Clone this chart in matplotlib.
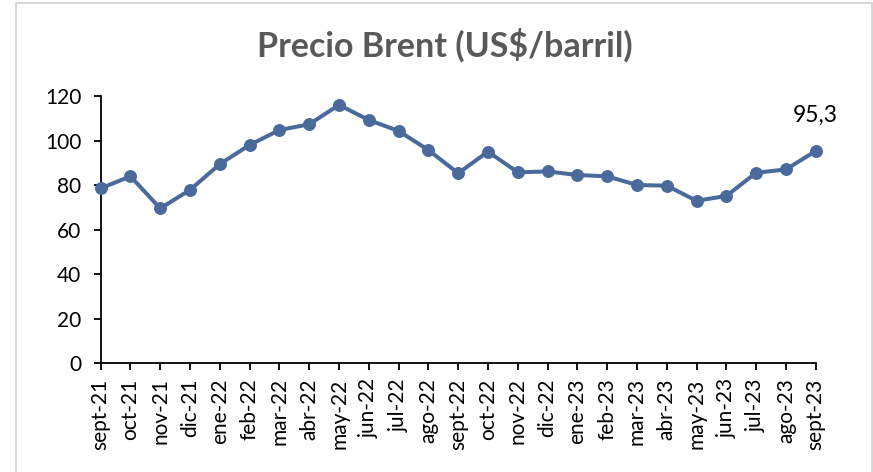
import matplotlib
matplotlib.use('Agg')
from matplotlib import pyplot as plt
from matplotlib.patches import Rectangle

months = ['sept-21', 'oct-21', 'nov-21', 'dic-21', 'ene-22', 'feb-22', 'mar-22', 'abr-22',
          'may-22', 'jun-22', 'jul-22', 'ago-22', 'sept-22', 'oct-22', 'nov-22', 'dic-22',
          'ene-23', 'feb-23', 'mar-23', 'abr-23', 'may-23', 'jun-23', 'jul-23', 'ago-23', 'sept-23']
brent = [78.5, 83.9, 69.5, 77.8, 89.4, 98.0, 104.7, 107.3, 116.0, 109.2, 104.3, 95.7, 85.3,
         95.0, 85.7, 86.1, 84.5, 83.9, 80.0, 79.7, 72.9, 75.1, 85.5, 87.0, 95.3]
last_label = '95,3'

plt.rcParams['font.family'] = ['Lato', 'DejaVu Sans']

fig = plt.figure(figsize=(8.73, 4.72), dpi=100)
fig.patches.append(Rectangle((16 / 873, -0.1), (872 - 16) / 873, 1.1 - 3 / 472,
                             transform=fig.transFigure, fill=False,
                             edgecolor='#d0d0d0', linewidth=1.2))

ax = fig.add_axes([0.1153, 0.2309, 0.8191, 0.5657])
x = list(range(len(months)))
ax.plot(x, brent, color='#4A6A9C', linewidth=2.9, marker='o', markersize=8.3,
        solid_capstyle='round', clip_on=False, zorder=3)

ax.annotate(last_label, (x[-1], brent[-1]), xytext=(0, 18), textcoords='offset points',
            ha='center', va='bottom', fontsize=16.5, color='black')

ax.set_xlim(0, len(months) - 1)
ax.set_ylim(0, 120)
ax.set_yticks(range(0, 121, 20))
ax.set_xticks(x)
ax.set_xticklabels(months, rotation=90, fontsize=15)
ax.tick_params(axis='y', labelsize=15, length=5, width=1.3, pad=9, direction='out')
ax.tick_params(axis='x', length=5, width=1.3, pad=6, direction='out')
for s in ['top', 'right']:
    ax.spines[s].set_visible(False)
for s in ['left', 'bottom']:
    ax.spines[s].set_linewidth(1.3)

fig.text(0.51, 0.905, 'Precio Brent (US$/barril)', ha='center', va='center',
         fontsize=24.5, fontweight='bold', color='#595959')

fig.savefig('out.png', dpi=100)
